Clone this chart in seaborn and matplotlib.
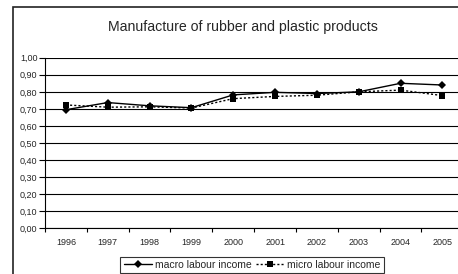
import numpy as np
import pandas as pd
import seaborn as sns
import matplotlib
matplotlib.use("Agg")
import matplotlib.pyplot as plt
from matplotlib.patches import Rectangle
from matplotlib.ticker import FixedLocator, FuncFormatter, NullFormatter

# ---- data ----
years = [1996, 1997, 1998, 1999, 2000, 2001, 2002, 2003, 2004, 2005]
macro = [0.695, 0.737, 0.718, 0.707, 0.782, 0.797, 0.790, 0.800, 0.850, 0.840]
micro = [0.723, 0.710, 0.712, 0.705, 0.760, 0.773, 0.780, 0.800, 0.810, 0.778]
series_names = ["macro labour income", "micro labour income"]
title = "Manufacture of rubber and plastic products"
y_ticks = [0.0, 0.1, 0.2, 0.3, 0.4, 0.5, 0.6, 0.7, 0.8, 0.9, 1.0]

sns.set_style("white")
plt.rcParams['font.family'] = ['Liberation Sans', 'DejaVu Sans']

fig = plt.figure(figsize=(4.58, 2.74), dpi=100)
W, H = 458, 274
ax = fig.add_axes([45 / W, 1 - 228.3 / H, 418.3 / W, 170.6 / H])

df = pd.DataFrame({
    "year": years * 2,
    "value": macro + micro,
    "series": [series_names[0]] * len(years) + [series_names[1]] * len(years),
})

sns.lineplot(
    data=df, x="year", y="value", hue="series", style="series",
    palette=["black", "black"],
    markers={series_names[0]: "D", series_names[1]: "s"},
    dashes={series_names[0]: "", series_names[1]: (1.5, 1.5)},
    markersize=4, linewidth=1.0, markeredgewidth=0,
    ax=ax, legend=False,
)

ax.set_xlim(years[0] - 0.5, years[-1] + 0.5)
ax.set_ylim(0, 1.0)
ax.set_xlabel("")
ax.set_ylabel("")

# y axis
ax.yaxis.set_major_locator(FixedLocator(y_ticks))
ax.yaxis.set_major_formatter(FuncFormatter(lambda v, p: f"{v:.2f}".replace(".", ",")))
ax.tick_params(axis="y", which="major", length=4, width=0.8, color="black",
               labelsize=6.5, pad=1.5, left=True, direction="out")
ax.yaxis.grid(True, color="black", linewidth=0.8)
ax.set_axisbelow(True)

# x axis: ticks between categories, labels at categories
ax.xaxis.set_major_locator(FixedLocator([y - 0.5 for y in years] + [years[-1] + 0.5]))
ax.xaxis.set_major_formatter(NullFormatter())
ax.xaxis.set_minor_locator(FixedLocator(years))
ax.xaxis.set_minor_formatter(FuncFormatter(lambda v, p: str(int(round(v)))))
ax.tick_params(axis="x", which="major", length=3, width=0.8, color="black",
               bottom=True, direction="out")
ax.tick_params(axis="x", which="minor", length=0, labelsize=6.5, pad=7)

for s in ["top", "right"]:
    ax.spines[s].set_visible(False)
for s in ["left", "bottom"]:
    ax.spines[s].set_color("black")
    ax.spines[s].set_linewidth(0.8)

# title
fig.text(243 / W, 1 - 26.5 / H, title, ha="center", va="center", fontsize=10.2)

# legend
handles = ax.get_lines()[:2]
leg = fig.legend(handles, series_names, loc="upper center",
                 bbox_to_anchor=(252 / W, 1 - 257 / H), ncol=2,
                 frameon=True, fancybox=False, edgecolor="black",
                 fontsize=7.5, handlelength=2.7, columnspacing=0.4,
                 handletextpad=0.3, borderpad=0.3, borderaxespad=0)
leg.get_frame().set_linewidth(0.8)

# outer chart frame
frame = Rectangle((13 / W, -0.5), 2, 1 - 7 / H + 0.5, transform=fig.transFigure,
                  fill=False, edgecolor="#222222", linewidth=1.2, clip_on=False)
fig.patches.append(frame)

fig.savefig("out.png", dpi=100)
